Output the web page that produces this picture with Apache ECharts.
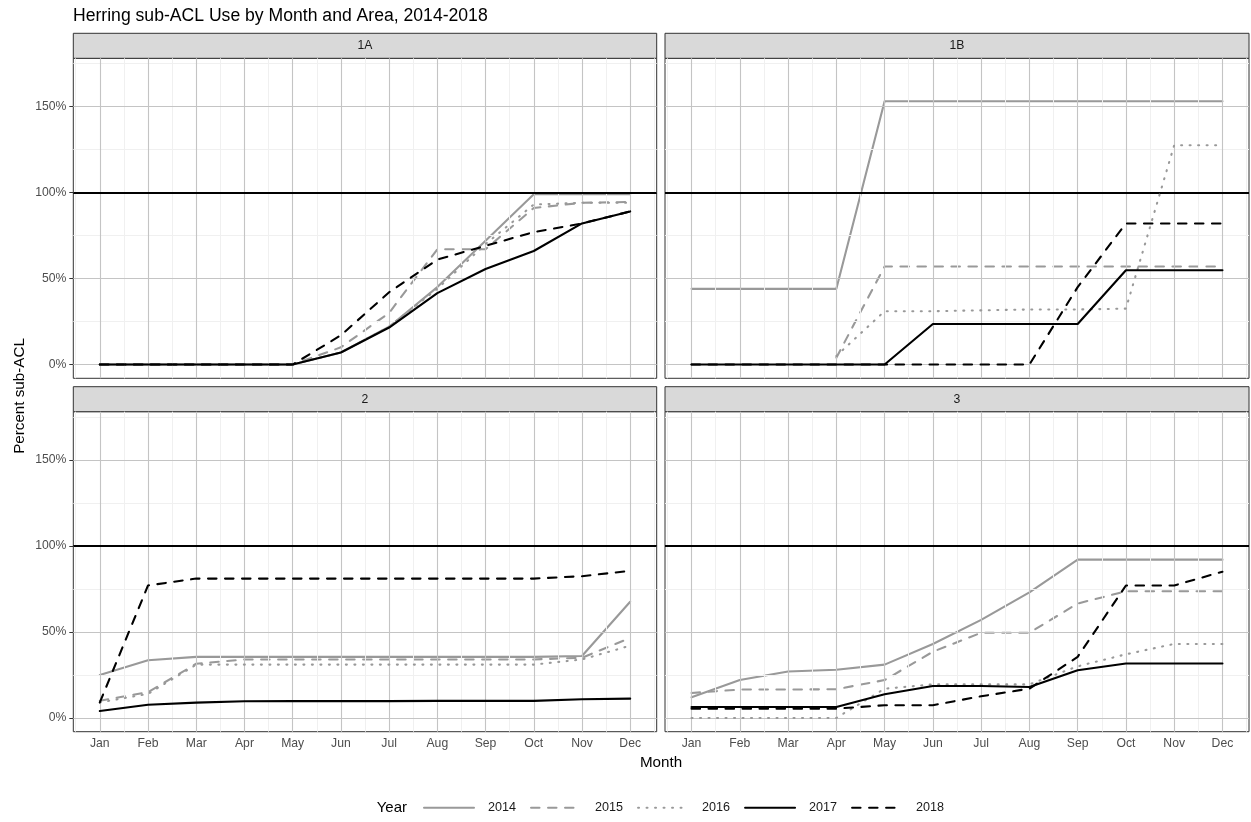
<!DOCTYPE html>
<html><head><meta charset="utf-8">
<script src="https://cdn.jsdelivr.net/npm/echarts@6/dist/echarts.min.js"></script>
<style>html,body{margin:0;padding:0;background:#fff}#chart{width:1251px;height:822px}</style>
</head><body><div id="chart"></div>
<script>
// ---- data ----
const months = ['Jan','Feb','Mar','Apr','May','Jun','Jul','Aug','Sep','Oct','Nov','Dec'];
const years = ['2014','2015','2016','2017','2018'];
const areas = ['1A','1B','2','3'];
const yTickValues = [0, 50, 100, 150];
const yMinorValues = [25, 75, 125, 175];
const xMajorValues = [1,2,3,4,5,6,7,8,9,10,11,12];
const xMinorValues = [0.5,1.5,2.5,3.5,4.5,5.5,6.5,7.5,8.5,9.5,10.5,11.5,12.5];
const subAclLine = 100;

const a1A_2014 = [0,0,0,0,0,7,22,45,72,99,99,99];
const a1A_2015 = [0,0,0,0,0,10,30,67,67,91,94,94.5];
const a1A_2016 = [0,0,0,0,0,7,22,44,70,93,94,94];
const a1A_2017 = [0,0,0,0,0,7,21.5,41.5,55.5,66,82,89];
const a1A_2018 = [0,0,0,0,0,17,42,61,69,77,82,89];

const a1B_2014 = [44,44,44,44,153,153,153,153,153,153,153,153];
const a1B_2015 = [null,null,null,4,57,57,57,57,57,57,57,57];
const a1B_2016 = [null,null,null,5,31,31,31.5,32,32,32.5,127.5,127.5];
const a1B_2017 = [0,0,0,0,0,23.6,23.6,23.6,23.6,54.8,54.8,54.8];
const a1B_2018 = [0,0,0,0,0,0,0,0,45,82,82,82];

const a2_2014 = [25,33.5,35.5,35.5,35.5,35.5,35.5,35.5,35.5,35.5,36,67.5];
const a2_2015 = [10,15,31.5,34,34,34,34,34,34,34,35,46.5];
const a2_2016 = [9,14,31,31,31,31,31,31,31,31,34,42];
const a2_2017 = [4,7.7,8.9,9.7,9.8,9.8,9.8,9.9,9.9,9.9,10.9,11.2];
const a2_2018 = [9,77,81,81,81,81,81,81,81,81,82.4,85.5];

const a3_2014 = [12,22,27,28,31,43,57,73,92,92,92,92];
const a3_2015 = [14.5,16.5,16.5,16.7,22,38.5,49.5,49.5,66.5,73.6,73.6,73.6];
const a3_2016 = [0,0,0,0,17,19.5,19.5,19.5,30,37,43,43];
const a3_2017 = [6.4,6.4,6.4,6.4,13.8,18.6,18.6,18,27.7,31.6,31.6,31.6];
const a3_2018 = [5.4,5.4,5.4,5.4,7.4,7.4,12.6,17,35.5,77,77,85];

const panelData = [
  [a1A_2014, a1A_2015, a1A_2016, a1A_2017, a1A_2018],
  [a1B_2014, a1B_2015, a1B_2016, a1B_2017, a1B_2018],
  [a2_2014, a2_2015, a2_2016, a2_2017, a2_2018],
  [a3_2014, a3_2015, a3_2016, a3_2017, a3_2018]
];

// ---- styles / layout ----
const FONT = "'Liberation Sans', Arial, sans-serif";
const GRAY = '#999999';
const yearStyles = [
  {color: GRAY, type: 'solid'},
  {color: GRAY, type: [8.5, 8.5]},
  {color: GRAY, type: [1, 7.5]},
  {color: '#000000', type: 'solid'},
  {color: '#000000', type: [8.5, 8.5]}
];
const LW = 2.1;
const panels = [
  {left: 73.3, top: 58.3, width: 583.4, height: 320, showX: false, showY: true},
  {left: 665, top: 58.3, width: 584, height: 320, showX: false, showY: false},
  {left: 73.3, top: 411.7, width: 583.4, height: 320, showX: true, showY: true},
  {left: 665, top: 411.7, width: 584, height: 320, showX: true, showY: false}
];
const STRIP_H = 25;
const TICK_FS = 12.2;

const grids = [], xAxes = [], yAxes = [], series = [], graphics = [];
panels.forEach((p, i) => {
  grids.push({left: p.left, top: p.top, width: p.width, height: p.height, show: true,
    borderColor: '#333333', borderWidth: 1, backgroundColor: '#ffffff', containLabel: false});
  xAxes.push({type: 'value', gridIndex: i, min: 0.45, max: 12.55, minInterval: 1, maxInterval: 1, splitNumber: 12,
    axisLine: {show: false}, splitLine: {show: false},
    axisTick: {show: p.showX, length: 4, lineStyle: {color: '#333333', width: 1}},
    axisLabel: {show: p.showX, showMinLabel: false, showMaxLabel: false, margin: 6,
      color: '#4d4d4d', fontSize: TICK_FS, fontFamily: FONT,
      formatter: v => (Number.isInteger(v) && v >= 1 && v <= 12) ? months[v - 1] : ''}
  });
  yAxes.push({type: 'value', gridIndex: i, min: -8, max: 178, minInterval: 50, maxInterval: 50, splitNumber: 4,
    axisLine: {show: false}, splitLine: {show: false},
    axisTick: {show: p.showY, length: 4, lineStyle: {color: '#333333', width: 1}},
    axisLabel: {show: p.showY, showMinLabel: false, showMaxLabel: false, margin: 7,
      color: '#4d4d4d', fontSize: TICK_FS, fontFamily: FONT,
      formatter: v => yTickValues.includes(v) ? v + '%' : ''}
  });
  // gridlines
  const gl = [];
  xMinorValues.forEach(v => gl.push({xAxis: v, lineStyle: {color: '#f0f0f0', width: 1, type: 'solid'}}));
  yMinorValues.forEach(v => gl.push({yAxis: v, lineStyle: {color: '#f0f0f0', width: 1, type: 'solid'}}));
  xMajorValues.forEach(v => gl.push({xAxis: v, lineStyle: {color: '#c4c4c4', width: 1.1, type: 'solid'}}));
  yTickValues.forEach(v => gl.push({yAxis: v, lineStyle: {color: '#c4c4c4', width: 1.1, type: 'solid'}}));
  series.push({type: 'line', name: 'grid' + i, xAxisIndex: i, yAxisIndex: i, data: [], z: 1, silent: true,
    markLine: {silent: true, symbol: ['none', 'none'], label: {show: false}, animation: false, data: gl}});
  // data
  panelData[i].forEach((arr, k) => {
    series.push({type: 'line', name: years[k], xAxisIndex: i, yAxisIndex: i, z: 3 + k,
      symbol: 'none', showSymbol: false, connectNulls: false, animation: false,
      lineStyle: {color: yearStyles[k].color, type: yearStyles[k].type, width: LW, cap: 'round', join: 'round'},
      itemStyle: {color: yearStyles[k].color},
      data: arr.map((v, j) => [j + 1, v])});
  });
  // 100% reference line
  series.push({type: 'line', name: 'ref' + i, xAxisIndex: i, yAxisIndex: i, data: [], z: 10, silent: true,
    markLine: {silent: true, symbol: ['none', 'none'], label: {show: false}, animation: false,
      data: [{yAxis: subAclLine, lineStyle: {color: '#000000', width: 2.1, type: 'solid'}}]}});
  // strip
  graphics.push({type: 'rect', shape: {x: p.left, y: p.top - STRIP_H, width: p.width, height: STRIP_H},
    style: {fill: '#d9d9d9', stroke: '#333333', lineWidth: 1}, z: 5});
  graphics.push({type: 'text', x: p.left + p.width / 2, y: p.top - STRIP_H / 2, z: 6,
    style: {text: areas[i], font: TICK_FS + 'px ' + FONT, fill: '#1a1a1a', align: 'center', verticalAlign: 'middle',
      textAlign: 'center', textVerticalAlign: 'middle'}});
});

graphics.push({type: 'text', x: 73, y: 16.4, style: {text: 'Herring sub-ACL Use by Month and Area, 2014-2018',
  font: '17.6px ' + FONT, fill: '#000', align: 'left', verticalAlign: 'middle', textAlign: 'left', textVerticalAlign: 'middle'}});
graphics.push({type: 'text', x: 20, y: 396, rotation: Math.PI / 2, style: {text: 'Percent sub-ACL',
  font: '15.2px ' + FONT, fill: '#000', align: 'center', verticalAlign: 'middle', textAlign: 'center', textVerticalAlign: 'middle'}});
graphics.push({type: 'text', x: 661, y: 762.7, style: {text: 'Month',
  font: '15.2px ' + FONT, fill: '#000', align: 'center', verticalAlign: 'middle', textAlign: 'center', textVerticalAlign: 'middle'}});
graphics.push({type: 'text', x: 376.7, y: 808.3, style: {text: 'Year',
  font: '15px ' + FONT, fill: '#000', align: 'left', verticalAlign: 'middle', textAlign: 'left', textVerticalAlign: 'middle'}});

const chart = echarts.init(document.getElementById('chart'), null, {renderer: 'canvas'});
chart.setOption({
  animation: false,
  backgroundColor: '#ffffff',
  grid: grids, xAxis: xAxes, yAxis: yAxes, series: series,
  legend: {data: years, left: 423, top: 801.3, padding: 0, itemWidth: 50, itemHeight: 14, itemGap: 14,
    itemStyle: {opacity: 0, borderWidth: 0},
    textStyle: {fontSize: 12.6, color: '#1a1a1a', fontFamily: FONT, padding: [0, 0, 0, 9]}},
  graphic: graphics
});
</script></body></html>
